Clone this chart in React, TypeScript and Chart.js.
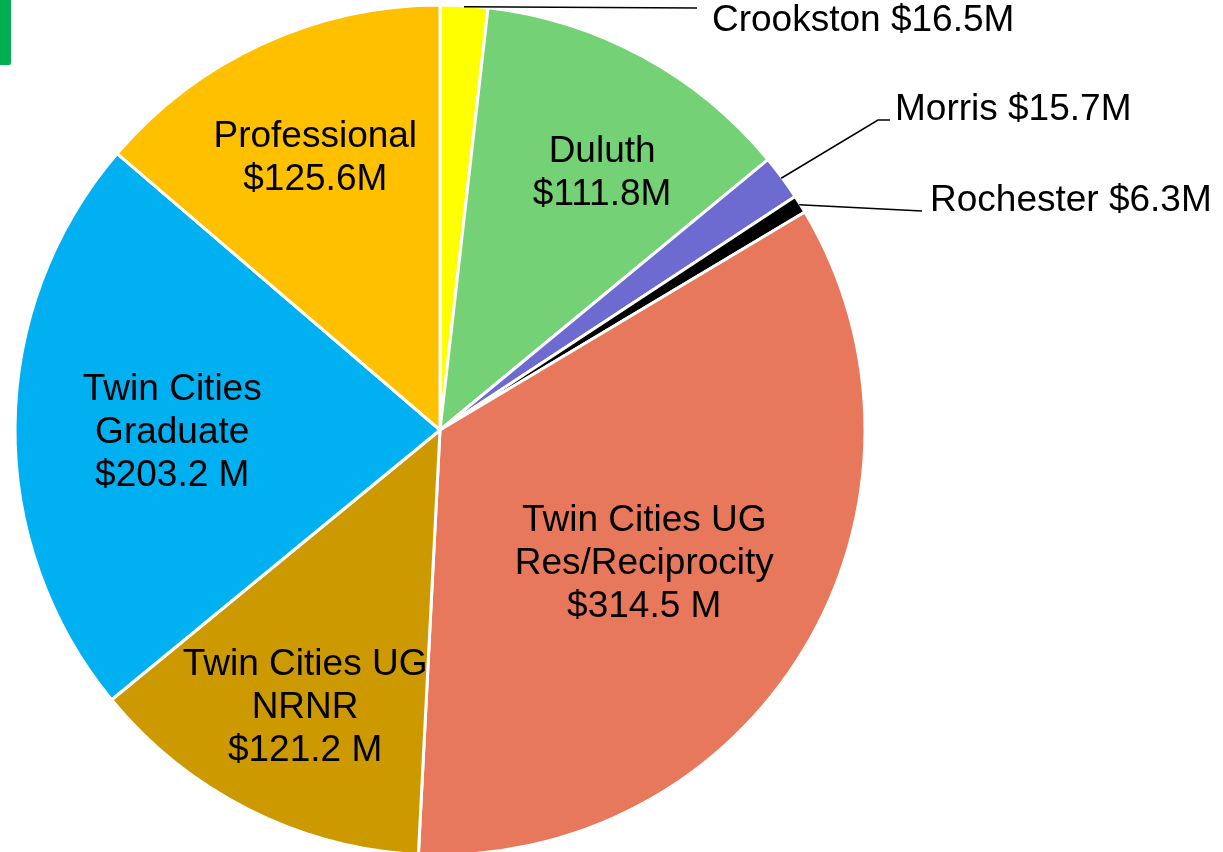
import React, { useEffect, useRef } from "react";
import { Chart, registerables } from "chart.js";

Chart.register(...registerables);

const categories = [
  "Crookston",
  "Duluth",
  "Morris",
  "Rochester",
  "Twin Cities UG\nRes/Reciprocity",
  "Twin Cities UG\nNRNR",
  "Twin Cities\nGraduate",
  "Professional",
];
const values = [16.5, 111.8, 15.7, 6.3, 314.5, 121.2, 203.2, 125.6];
const unitSeparators = ["", "", "", "", " ", " ", " ", ""];
const sliceColors = [
  "#FFFF00",
  "#75D175",
  "#6D6BD0",
  "#000000",
  "#E8785B",
  "#CC9A00",
  "#00B0F0",
  "#FFC000",
];

// label layout (annotation placement, not data)
const insideLabels = [
  { index: 1, rFrac: 0.72, dAngle: 3.5 },
  { index: 4, rFrac: 0.57, dAngle: 1.5 },
  { index: 5, rFrac: 0.72, dAngle: -0.6 },
  { index: 6, rFrac: 0.63, dAngle: -0.6 },
  { index: 7, rFrac: 0.71, dAngle: 0.3 },
];
const outsideLabels = [
  { index: 0, path: [[697, 8]], text: [712, 31] },
  { index: 2, path: [[878, 120], [890, 120]], text: [895, 120] },
  { index: 3, path: [[922, 211]], text: [930, 211] },
];

const FONT_SIZE = 37;
const FONT = FONT_SIZE + "px 'Liberation Sans', Arial, sans-serif";
const LINE_H = 43;

function valueText(i: number) {
  return "$" + values[i].toFixed(1) + unitSeparators[i] + "M";
}

const labelPlugin = {
  id: "sliceLabels",
  afterDraw(chart: any) {
    const ctx = chart.ctx;
    const meta = chart.getDatasetMeta(0);
    ctx.save();
    ctx.font = FONT;
    ctx.fillStyle = "#000";
    ctx.textBaseline = "alphabetic";

    insideLabels.forEach((cfg) => {
      const arc = meta.data[cfg.index] as any;
      const { x, y, startAngle, endAngle, outerRadius } = arc.getProps(
        ["x", "y", "startAngle", "endAngle", "outerRadius"],
        true
      );
      const mid = (startAngle + endAngle) / 2 + (cfg.dAngle * Math.PI) / 180;
      const r = outerRadius * cfg.rFrac;
      const cx = x + Math.cos(mid) * r;
      const cy = y + Math.sin(mid) * r;
      const lines = [...categories[cfg.index].split("\n"), valueText(cfg.index)];
      ctx.textAlign = "center";
      lines.forEach((ln, k) => {
        const base = cy + FONT_SIZE * 0.358 + (k - (lines.length - 1) / 2) * LINE_H;
        ctx.fillText(ln, cx, base);
      });
    });

    ctx.strokeStyle = "#000";
    ctx.lineWidth = 1.5;
    outsideLabels.forEach((cfg) => {
      const arc = meta.data[cfg.index] as any;
      const { x, y, startAngle, endAngle, outerRadius } = arc.getProps(
        ["x", "y", "startAngle", "endAngle", "outerRadius"],
        true
      );
      const mid = (startAngle + endAngle) / 2;
      const sx = x + Math.cos(mid) * (outerRadius - 1);
      const sy = y + Math.sin(mid) * (outerRadius - 1);
      ctx.beginPath();
      ctx.moveTo(sx, sy);
      cfg.path.forEach((p) => ctx.lineTo(p[0], p[1]));
      ctx.stroke();
      ctx.textAlign = "left";
      ctx.fillText(
        categories[cfg.index] + " " + valueText(cfg.index),
        cfg.text[0],
        cfg.text[1]
      );
    });
    ctx.restore();
  },
};

export default function App() {
  const ref = useRef<HTMLCanvasElement | null>(null);
  useEffect(() => {
    if (!ref.current) return;
    const chart = new Chart(ref.current, {
      type: "pie",
      data: {
        labels: categories,
        datasets: [
          {
            data: values,
            backgroundColor: sliceColors,
            borderColor: "#FFFFFF",
            borderWidth: 3,
          },
        ],
      },
      options: {
        responsive: false,
        animation: false,
        devicePixelRatio: 1,
        radius: 425,
        layout: { padding: { top: 8, right: 343, bottom: 0, left: 0 } },
        plugins: {
          legend: { display: false },
          tooltip: { enabled: false },
        },
      } as any,
      plugins: [labelPlugin],
    });
    return () => chart.destroy();
  }, []);

  return (
    <div
      style={{
        position: "fixed",
        left: 0,
        top: 0,
        width: 1223,
        height: 852,
        background: "#fff",
        overflow: "hidden",
      }}
    >
      <canvas
        ref={ref}
        width={1223}
        height={852}
        style={{ display: "block", width: 1223, height: 852 }}
      />
      <div
        style={{
          position: "absolute",
          left: 0,
          top: 0,
          width: 11,
          height: 65,
          background: "#00B050",
          borderBottomRightRadius: 2,
        }}
      />
    </div>
  );
}
